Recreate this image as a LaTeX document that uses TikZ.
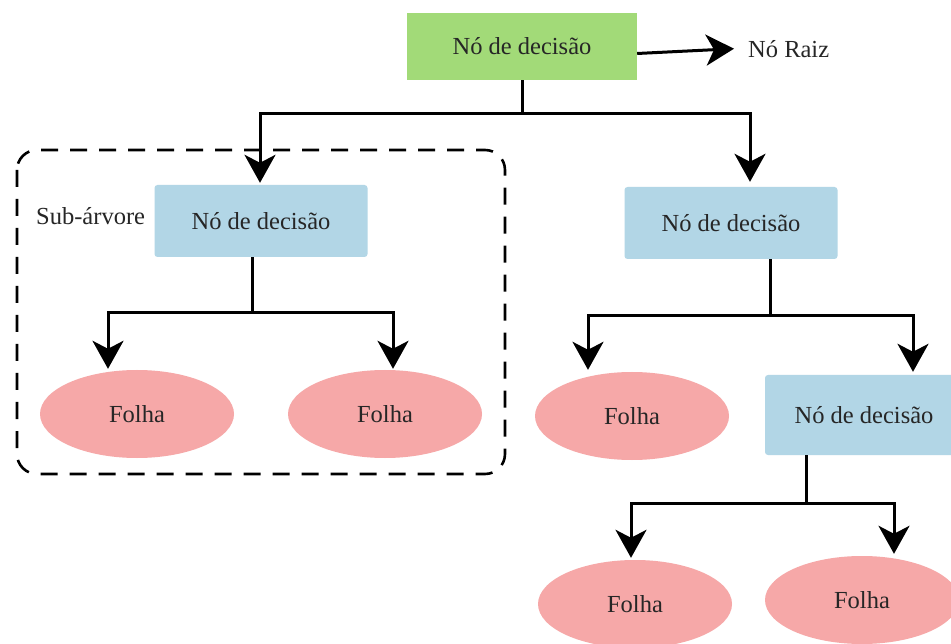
\documentclass[tikz,border=0pt]{standalone}
\usepackage{fontspec}
\setmainfont{Liberation Serif}
\usetikzlibrary{arrows.meta,shapes.geometric}
\definecolor{rootgreen}{HTML}{A2DA78}
\definecolor{decblue}{HTML}{B2D6E6}
\definecolor{leafpink}{HTML}{F6A8A8}
\tikzset{
  lbl/.style={font=\fontsize{24.5}{28}\selectfont, text=black!85},
  rootbox/.style={lbl, fill=rootgreen, minimum width=230pt, minimum height=67pt, inner sep=0pt},
  decbox/.style={lbl, fill=decblue, rounded corners=3pt, minimum width=213pt, minimum height=72pt, inner sep=0pt},
  leaf/.style={lbl, ellipse, fill=leafpink, minimum width=194pt, minimum height=88pt, inner sep=0pt},
  conn/.style={line width=3pt, black},
  arr/.style={conn, -{Stealth[length=28pt,width=31pt,inset=8pt]}},
  sub/.style={dashed, dash pattern=on 17pt off 12pt, line width=2.6pt, rounded corners=20pt}
}
\begin{document}
\begin{tikzpicture}[x=1pt,y=-1pt]
\useasboundingbox (0,0) rectangle (951,644);
\fill[white] (0,0) rectangle (951,644);
\node[rootbox] (root) at (522,46.5) {Nó de decisão};
\node[lbl, anchor=west, inner sep=0pt] (raiz) at (748,49) {Nó Raiz};
\node[decbox] (ld) at (261,221) {Nó de decisão};
\node[lbl, anchor=west, inner sep=0pt] (subt) at (36,216) {Sub-árvore};
\node[decbox] (rd) at (731,223) {Nó de decisão};
\node[leaf] (l1) at (137,414) {Folha};
\node[leaf] (l2) at (385,414) {Folha};
\node[leaf] (l3) at (632,416) {Folha};
\node[decbox, minimum width=198pt, minimum height=80pt] (rd2) at (864,415) {Nó de decisão};
\node[leaf] (l4) at (635,604) {Folha};
\node[leaf] (l5) at (862,600) {Folha};
\draw[sub] (17,150) rectangle (505,474);
% root connectors
\draw[arr, shorten >=14pt] ([yshift=-7pt]root.east) -- ([yshift=1pt]raiz.west);
\draw[conn] (root.south) -- ++(0,33) coordinate (j1);
\draw[arr] (j1) -| ([xshift=-1pt,yshift=2pt]ld.north);
\draw[arr] (j1) -| ([xshift=19pt,yshift=5pt]rd.north);
% left subtree
\draw[conn] ([xshift=-9pt]ld.south) -- ++(0,55) coordinate (j2);
\draw[arr] (j2) -| ([xshift=-29pt,yshift=1pt]l1.north);
\draw[arr] (j2) -| ([xshift=8pt,yshift=1pt]l2.north);
% right subtree
\draw[conn] ([xshift=39pt]rd.south) -- ++(0,56) coordinate (j3);
\draw[arr] (j3) -| ([xshift=-44pt,yshift=2pt]l3.north);
\draw[arr] (j3) -| ([xshift=49pt,yshift=3pt]rd2.north);
% lower right subtree
\draw[conn] ([xshift=-58pt]rd2.south) -- ++(0,48) coordinate (j4);
\draw[arr] (j4) -| ([xshift=-4pt,yshift=2pt]l4.north);
\draw[arr] (j4) -| ([xshift=32pt,yshift=2pt]l5.north);
\end{tikzpicture}
\end{document}
